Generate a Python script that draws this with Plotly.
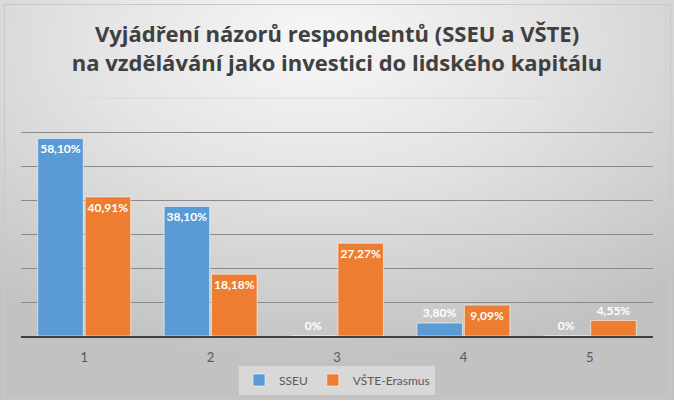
import plotly.graph_objects as go
import urllib.parse

categories = ["1", "2", "3", "4", "5"]
sseu = [58.10, 38.10, 0, 3.80, 0]
vste = [40.91, 18.18, 27.27, 9.09, 4.55]
series_names = ["SSEU", "VŠTE-Erasmus"]
title_lines = ["Vyjádření názorů respondentů (SSEU a VŠTE)",
               "na vzdělávání jako investici do lidského kapitálu"]

BLUE = "#5B9BD5"
ORANGE = "#ED7D31"


def fmt(v):
    return "0%" if v == 0 else f"{v:.2f}".replace(".", ",") + "%"


def positions(vals):
    # labels that do not fit inside a short bar are placed just above it
    return ["outside" if v < 6 else "inside" for v in vals]


fig = go.Figure()
for name, vals, col in [(series_names[0], sseu, BLUE), (series_names[1], vste, ORANGE)]:
    fig.add_trace(go.Bar(
        x=categories, y=vals, name=name,
        marker=dict(color=col, line=dict(color="rgba(255,255,255,0.55)", width=1)),
        text=[fmt(v) for v in vals],
        textposition=positions(vals),
        textangle=0,
        insidetextanchor="end",
        constraintext="none",
        cliponaxis=False,
        textfont=dict(family="Lato", size=12, color="white", weight="bold"),
        outsidetextfont=dict(family="Lato", size=12, color="white", weight="bold"),
    ))

svg = (
    '<svg xmlns="http://www.w3.org/2000/svg" width="674" height="400" viewBox="0 0 674 400" preserveAspectRatio="none">'
    '<defs><radialGradient id="g" cx="0.47" cy="0.12" r="0.78" fx="0.47" fy="0.1">'
    '<stop offset="0" stop-color="#f7f7f7"/>'
    '<stop offset="0.45" stop-color="#e3e3e3"/>'
    '<stop offset="1" stop-color="#c2c2c2"/>'
    '</radialGradient></defs>'
    '<rect x="0" y="0" width="674" height="400" fill="url(#g)"/>'
    '<rect x="4.5" y="4.5" width="666" height="394" fill="none" stroke="#c8c8c8" stroke-width="1"/>'
    '</svg>'
)
src = "data:image/svg+xml;charset=utf-8," + urllib.parse.quote(svg)

fig.update_layout(
    width=674, height=406,
    margin=dict(l=21, r=21, t=98, b=70),
    paper_bgcolor="white",
    plot_bgcolor="rgba(0,0,0,0)",
    barmode="group",
    bargap=0.25,
    bargroupgap=0.04,
    images=[dict(source=src, xref="paper", yref="paper", x=-21/632, y=1 + 98/238,
                 sizex=674/632, sizey=400/238, xanchor="left", yanchor="top",
                 sizing="stretch", layer="below")],
    title=dict(
        text="<br>".join(title_lines),
        x=0.5, xanchor="center", xref="paper",
        y=1 - 42/406, yanchor="top", yref="container",
        font=dict(family="Open Sans", size=22, color="#404040", weight="bold"),
    ),
    font=dict(family="Lato", color="#595959"),
    legend=dict(
        orientation="h", x=0.5, xanchor="center", y=-0.185, yanchor="middle",
        bgcolor="rgba(235,235,235,0.55)",
        font=dict(family="Lato", size=12, color="#595959"),
        itemwidth=30, tracegroupgap=0,
    ),
    showlegend=True,
)
fig.update_xaxes(
    showgrid=False, showline=True, linecolor="#404040", linewidth=1.5,
    ticks="", ticklabelstandoff=9,
    tickfont=dict(family="Lato", size=13, color="#595959"),
)
fig.update_yaxes(
    range=[0, 70], tickvals=[10, 20, 30, 40, 50, 60], showticklabels=False,
    showgrid=True, gridcolor="#8a8a8a", gridwidth=1, zeroline=False, ticks="",
)
fig.add_shape(type="line", xref="paper", yref="y domain", x0=0, x1=1, y0=1, y1=1,
              line=dict(color="#dadada", width=1), layer="below")

fig.write_html("out.html", config={"displayModeBar": False},
               post_script="document.body.style.margin='0';document.body.style.padding='0';")
